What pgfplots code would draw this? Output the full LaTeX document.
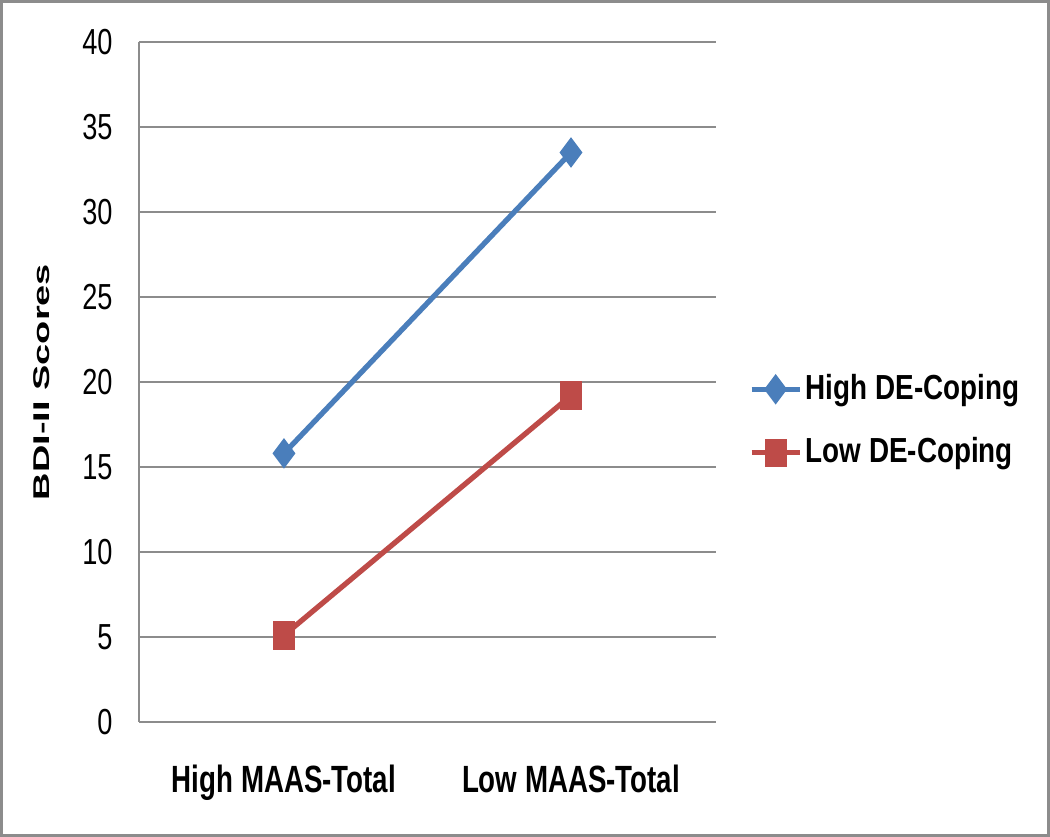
\documentclass[border=0pt]{standalone}
\usepackage{fontspec}
\usepackage{graphicx}
\usepackage{pgfplots}
\pgfplotsset{compat=1.18}
\setmainfont{Liberation Sans}
\newfontfamily\tickfont[FakeStretch=0.75]{Liberation Sans}
\newfontfamily\xlabfont[FakeStretch=0.73]{Liberation Sans}
\newfontfamily\legfont[FakeStretch=0.80]{Liberation Sans}
\definecolor{exblue}{HTML}{4A7EBB}
\definecolor{exred}{HTML}{BE4B48}
\definecolor{gridgray}{HTML}{8C8C8C}
\begin{document}
\begin{tikzpicture}
\useasboundingbox (0,0) rectangle (10.5cm,8.37cm);
\draw[gridgray, line width=0.03cm] (0.015cm,0.015cm) rectangle (10.485cm,8.355cm);
\begin{axis}[
  at={(1.39cm,1.15cm)}, anchor=south west,
  scale only axis, width=5.77cm, height=6.8cm,
  xmin=-0.505, xmax=1.505, ymin=0, ymax=40,
  xtick={0,1}, xticklabels={High MAAS-Total, Low MAAS-Total},
  ytick={0,5,...,40},
  /pgf/number format/assume math mode=true,
  axis x line*=bottom, axis y line*=left,
  axis line style={gridgray, line width=0.6pt, -},
  major tick length=0pt,
  ymajorgrids, grid style={gridgray, line width=0.6pt},
  yticklabel style={font=\tickfont\fontsize{10.3}{12}\selectfont, xshift=-0.14cm},
  xticklabel style={font=\xlabfont\bfseries\fontsize{10.8}{13}\selectfont, anchor=north, yshift=-0.31cm},
  ylabel={\scalebox{1}[0.6]{\fontsize{10.8}{13}\selectfont\bfseries BDI-II Scores}},
  ylabel style={at={(rel axis cs:-0.168,0.5)}, anchor=center},
  legend style={draw=none, fill=none, at={(rel axis cs:1.056,0.4426)}, anchor=west,
    font=\legfont\bfseries\fontsize{9.9}{12}\selectfont, row sep=0.19cm, inner sep=0pt,
    nodes={inner xsep=1pt},
    /tikz/every even column/.append style={column sep=0pt}},
  legend cell align=left,
  legend image code/.code={
    \draw[mark repeat=2, mark phase=2, #1] plot coordinates {(0cm,0cm) (0.24cm,0cm) (0.48cm,0cm)};
  },
]
\addplot[exblue, line width=1.5pt, mark=diamond*, mark size=3.1pt, mark options={solid}]
  coordinates {(0,15.8) (1,33.5)};
\addlegendentry{High DE-Coping}
\addplot[exred, line width=1.5pt, mark=square*, mark size=3.3pt, mark options={solid, xscale=0.73}]
  coordinates {(0,5.1) (1,19.2)};
\addlegendentry{Low DE-Coping}
\end{axis}
\end{tikzpicture}
\end{document}
